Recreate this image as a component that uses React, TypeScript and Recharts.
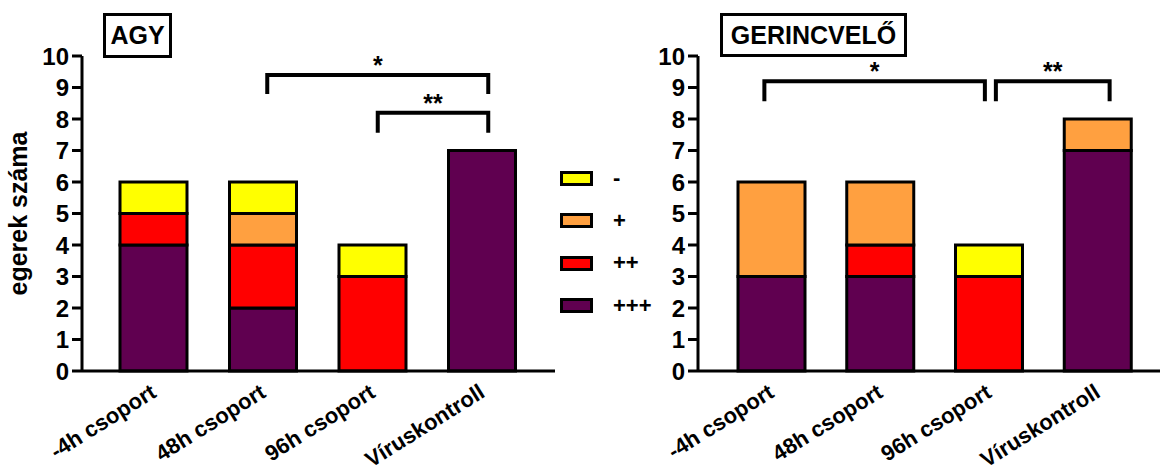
import { BarChart, Bar, XAxis, YAxis, ReferenceLine, Legend } from 'recharts';

const categories = ['-4h csoport', '48h csoport', '96h csoport', 'Víruskontroll'];
const levelNames = ['+++', '++', '+', '-'];
const yTicks = [0, 1, 2, 3, 4, 5, 6, 7, 8, 9, 10];

// AGY (brain)
const agyPlus3 = [4, 2, 0, 7];
const agyPlus2 = [1, 2, 3, 0];
const agyPlus1 = [0, 1, 0, 0];
const agyMinus = [1, 1, 1, 0];

// GERINCVELŐ (spinal cord)
const gerPlus3 = [3, 3, 0, 7];
const gerPlus2 = [0, 1, 3, 0];
const gerPlus1 = [3, 2, 0, 1];
const gerMinus = [0, 0, 1, 0];

const agyBrackets = [
  { from: '48h csoport', to: 'Víruskontroll', y: 9.4, label: '*' },
  { from: '96h csoport', to: 'Víruskontroll', y: 8.2, label: '**' },
];
const gerBrackets = [
  { from: '-4h csoport', to: '96h csoport', y: 9.2, label: '*' },
  { from: '96h csoport', to: 'Víruskontroll', y: 9.2, label: '**' },
];

const FONT = '"Liberation Sans", Arial, sans-serif';
const COLORS = ['#600050', '#FF0000', '#FFA040', '#FFFF00'];
const keys = ['p3', 'p2', 'p1', 'm'];

// small pixel nudges so bracket legs sit where the original has them
const agyNudge = [[4, 6, 19], [5, 6, 20]];
const gerNudge = [[-7, -4, 20], [7, 12, 20]];

const rows = (p3: number[], p2: number[], p1: number[], m: number[]) =>
  categories.map((name, i) => ({ name, p3: p3[i], p2: p2[i], p1: p1[i], m: m[i] }));

const agyData = rows(agyPlus3, agyPlus2, agyPlus1, agyMinus);
const gerData = rows(gerPlus3, gerPlus2, gerPlus1, gerMinus);

const CategoryTick = (props: any) => {
  const { x, y, payload } = props;
  const ax = x + 4;
  const ay = y + 25;
  return (
    <text
      x={ax}
      y={ay}
      transform={`rotate(-32 ${ax} ${ay})`}
      textAnchor="end"
      fontSize={22}
      fontWeight="bold"
      fontFamily={FONT}
      fill="#000"
    >
      {payload.value}
    </text>
  );
};

const bracketShape = (label: string, dx1: number, dx2: number, leg: number) => (props: any) => {
  const { x1, y1, x2 } = props;
  const a = x1 + dx1;
  const b = x2 + dx2;
  return (
    <g>
      <path d={`M${a},${y1 + leg}V${y1}H${b}V${y1 + leg}`} fill="none" stroke="#000" strokeWidth={4} />
      <text x={(a + b) / 2} y={y1 - 1} textAnchor="middle" fontSize={25} fontWeight="bold" fontFamily={FONT} fill="#000">
        {label}
      </text>
    </g>
  );
};

const YLabel = (props: any) => {
  const { viewBox } = props;
  const cy = viewBox.y + viewBox.height / 2;
  return (
    <text
      transform={`translate(27 ${cy}) rotate(-90)`}
      textAnchor="middle"
      fontSize={25}
      fontWeight="bold"
      fontFamily={FONT}
      fill="#000"
    >
      egerek száma
    </text>
  );
};

const LegendBox = () => (
  <div style={{ fontFamily: FONT }}>
    {[3, 2, 1, 0].map((i) => (
      <div key={levelNames[i]} style={{ height: 42.5, display: 'flex', alignItems: 'center' }}>
        <div style={{ width: 27, height: 9, border: '3px solid #000', background: COLORS[i] }} />
        <span style={{ marginLeft: 20, fontSize: 22, fontWeight: 'bold', color: '#000' }}>{levelNames[i]}</span>
      </div>
    ))}
  </div>
);

const tickStyle = { fill: '#000', fontSize: 24, fontWeight: 'bold', fontFamily: FONT };

function Panel({ data, brackets, nudge, yWidth, width, padding, withLegend, withLabel }: any) {
  return (
    <BarChart width={width} height={475} data={data} margin={{ top: 56, right: width - yWidth - 473 + (withLegend ? 0 : 11), bottom: 0, left: 0 }}>
      <XAxis
        dataKey="name"
        axisLine={{ stroke: '#000', strokeWidth: 3 }}
        tickLine={false}
        tickSize={0}
        tickMargin={0}
        height={104}
        interval={0}
        padding={padding}
        tick={<CategoryTick />}
      />
      <YAxis
        domain={[0, 10]}
        ticks={yTicks}
        interval={0}
        width={yWidth}
        axisLine={{ stroke: '#000', strokeWidth: 3 }}
        tickLine={{ stroke: '#000', strokeWidth: 3 }}
        tickSize={10}
        tickMargin={3}
        tick={tickStyle}
        label={withLabel ? { value: 'egerek száma', content: <YLabel /> } : undefined}
      />
      {keys.map((k, i) => (
        <Bar
          key={k}
          dataKey={k}
          name={levelNames[i]}
          stackId="a"
          fill={COLORS[i]}
          stroke="#000"
          strokeWidth={3}
          barSize={67}
          isAnimationActive={false}
        />
      ))}
      {brackets.map((b: any, i: number) => (
        <ReferenceLine
          key={i}
          segment={[{ x: b.from, y: b.y }, { x: b.to, y: b.y }]}
          ifOverflow="visible"
          shape={bracketShape(b.label, nudge[i][0], nudge[i][1], nudge[i][2])}
        />
      ))}
      {withLegend && (
        <Legend
          layout="vertical"
          align="center"
          verticalAlign="middle"
          content={<LegendBox />}
          wrapperStyle={{ left: 560, top: 157, width: 100 }}
        />
      )}
    </BarChart>
  );
}

export default function App() {
  return (
    <div style={{ position: 'absolute', left: 0, top: 0, width: 1161, height: 475, background: '#fff', fontFamily: FONT }}>
      <div style={{ position: 'absolute', left: 0, top: 0 }}>
        <Panel data={agyData} brackets={agyBrackets} nudge={agyNudge} yWidth={82} width={660} padding={{ left: 17, right: 18 }} withLegend withLabel />
      </div>
      <div style={{ position: 'absolute', left: 600, top: 0 }}>
        <Panel data={gerData} brackets={gerBrackets} nudge={gerNudge} yWidth={98} width={561} padding={{ left: 19, right: 8 }} />
      </div>
      <div style={{ position: 'absolute', left: 103, top: 13, width: 63, height: 39, border: '3px solid #000', display: 'flex', alignItems: 'center', justifyContent: 'center', fontSize: 25, fontWeight: 'bold' }}>
        AGY
      </div>
      <div style={{ position: 'absolute', left: 720, top: 13, width: 181, height: 38, border: '3px solid #000', display: 'flex', alignItems: 'center', justifyContent: 'center', fontSize: 25, fontWeight: 'bold' }}>
        GERINCVELŐ
      </div>
    </div>
  );
}
